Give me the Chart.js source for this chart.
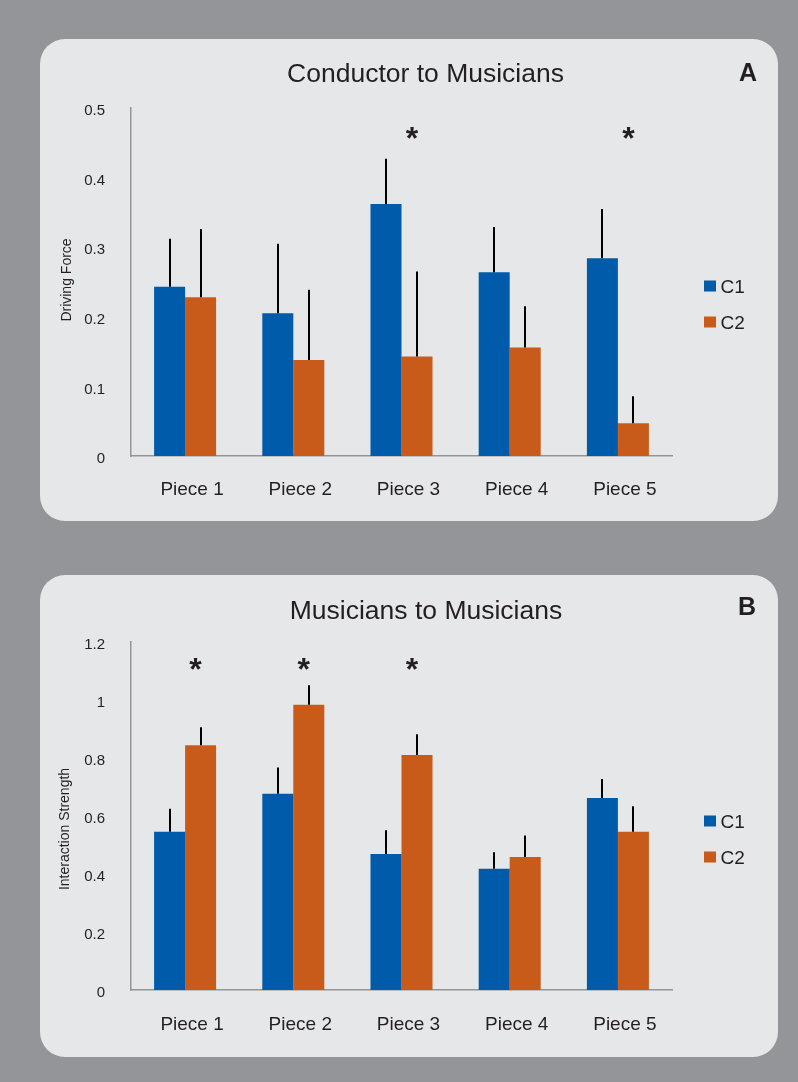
<!DOCTYPE html>
<html><head><meta charset="utf-8">
<script src="https://cdn.jsdelivr.net/npm/chart.js@4"></script>
<style>
html,body{margin:0;padding:0;background:#939598;width:798px;height:1082px;overflow:hidden;}
.panel{position:absolute;left:40px;width:738px;height:482px;background:#e6e7e8;border-radius:25px;overflow:hidden;}
#pa{top:39px;} #pb{top:575px;}
canvas{display:block;}
</style></head><body>
<div class="panel" id="pa"><canvas id="ca" width="738" height="482"></canvas></div>
<div class="panel" id="pb"><canvas id="cb" width="738" height="482"></canvas></div>
<script>
const categories = ['Piece 1','Piece 2','Piece 3','Piece 4','Piece 5'];
const seriesNames = ['C1','C2'];

const conductorC1 = [0.243, 0.205, 0.362, 0.264, 0.284];
const conductorC2 = [0.228, 0.138, 0.143, 0.156, 0.047];
const conductorC1Err = [0.069, 0.100, 0.065, 0.065, 0.071];
const conductorC2Err = [0.098, 0.101, 0.122, 0.059, 0.039];
const conductorSig = [false, false, true, false, true];
const conductorTicks = ['0','0.1','0.2','0.3','0.4','0.5'];

const musiciansC1 = [0.546, 0.677, 0.469, 0.418, 0.662];
const musiciansC2 = [0.844, 0.984, 0.810, 0.459, 0.546];
const musiciansC1Err = [0.079, 0.090, 0.082, 0.057, 0.066];
const musiciansC2Err = [0.062, 0.067, 0.072, 0.074, 0.088];
const musiciansSig = [true, true, true, false, false];
const musiciansTicks = ['0','0.2','0.4','0.6','0.8','1','1.2'];

const FONT = "'Liberation Sans', Arial, Helvetica, sans-serif";
const INK = '#231f20';
const BLUE = '#005baa';
const ORANGE = '#c85b1a';
const AXIS = '#939598';

const errorBars = {
  id: 'errorBars',
  afterDatasetsDraw(chart) {
    const ctx = chart.ctx, ys = chart.scales.y;
    ctx.save();
    ctx.strokeStyle = '#000';
    ctx.lineWidth = 2;
    chart.data.datasets.forEach((ds, i) => {
      const meta = chart.getDatasetMeta(i);
      meta.data.forEach((bar, j) => {
        const top = ys.getPixelForValue(ds.data[j] + ds.errors[j]);
        ctx.beginPath();
        ctx.moveTo(Math.round(bar.x), bar.y);
        ctx.lineTo(Math.round(bar.x), top);
        ctx.stroke();
      });
    });
    ctx.restore();
  }
};

function makeDecor(o) {
  return {
    id: 'decor',
    afterDraw(chart) {
      const ctx = chart.ctx, xs = chart.scales.x, ys = chart.scales.y;
      ctx.save();
      ctx.fillStyle = INK;
      ctx.textAlign = 'center';
      ctx.textBaseline = 'alphabetic';
      ctx.font = '26.5px ' + FONT;
      ctx.fillText(o.title, o.titleX, o.titleBase);
      ctx.font = 'bold 25px ' + FONT;
      ctx.fillText(o.letter, o.letterX, o.letterBase);
      ctx.save();
      ctx.translate(o.yTitleX, o.yTitleY);
      ctx.rotate(-Math.PI / 2);
      ctx.font = '14px ' + FONT;
      ctx.textBaseline = 'middle';
      ctx.fillText(o.yTitle, 0, 0);
      ctx.restore();
      chart.data.datasets.forEach((ds, i) => {
        const cy = o.legendY + i * 36;
        ctx.fillStyle = ds.backgroundColor;
        ctx.fillRect(o.legendX, cy - 5.5, 12, 11);
        ctx.fillStyle = INK;
        ctx.font = '19px ' + FONT;
        ctx.textAlign = 'left';
        ctx.fillText(ds.label, o.legendX + 16.5, cy + 6.8);
      });
      ctx.font = 'bold 32px ' + FONT;
      ctx.textAlign = 'center';
      o.sig.forEach((s, j) => {
        if (!s) return;
        const x = xs.getPixelForValue(j) + 10.5;
        const y = ys.getPixelForValue(o.sigLevel);
        const m = ctx.measureText('*');
        ctx.fillText('*', x, y + (m.actualBoundingBoxAscent - m.actualBoundingBoxDescent) / 2);
      });
      ctx.restore();
    }
  };
}

function makeChart(id, c1, c2, e1, e2, ticks, yMax, yStep, top, deco) {
  return new Chart(document.getElementById(id), {
    type: 'bar',
    data: {
      labels: categories,
      datasets: [
        { label: seriesNames[0], data: c1, errors: e1, backgroundColor: BLUE, borderWidth: 0 },
        { label: seriesNames[1], data: c2, errors: e2, backgroundColor: ORANGE, borderWidth: 0 }
      ]
    },
    options: {
      responsive: false,
      animation: false,
      layout: { padding: { top: top, right: 106, left: 0, bottom: 0 }, autoPadding: false },
      datasets: { bar: { categoryPercentage: 0.573, barPercentage: 1.0 } },
      plugins: { legend: { display: false }, title: { display: false }, tooltip: { enabled: false } },
      scales: {
        x: {
          grid: { display: false },
          border: { display: true, color: AXIS, width: 1.5 },
          ticks: { color: INK, font: { family: FONT, size: 19 }, padding: deco.xPad, labelOffset: 7, maxRotation: 0 },
          afterFit(s) { s.height = 482 - top - 348; }
        },
        y: {
          min: 0, max: yMax,
          grid: { display: false },
          border: { display: true, color: AXIS, width: 1.5 },
          ticks: {
            stepSize: yStep, color: INK, font: { family: FONT, size: 15 }, padding: 18, labelOffset: 3,
            callback: (v, i) => ticks[i]
          },
          afterFit(s) { s.width = 91; }
        }
      }
    },
    plugins: [errorBars, makeDecor(deco)]
  });
}

makeChart('ca', conductorC1, conductorC2, conductorC1Err, conductorC2Err, conductorTicks, 0.5, 0.1, 69, {
  title: 'Conductor to Musicians', titleX: 385.5, titleBase: 43.3,
  letter: 'A', letterX: 708, letterBase: 41.6,
  yTitle: 'Driving Force', yTitleX: 27, yTitleY: 241,
  legendX: 664, legendY: 247,
  sig: conductorSig, sigLevel: 0.464, xPad: 14
});
makeChart('cb', musiciansC1, musiciansC2, musiciansC1Err, musiciansC2Err, musiciansTicks, 1.2, 0.2, 67, {
  title: 'Musicians to Musicians', titleX: 386, titleBase: 43.5,
  letter: 'B', letterX: 707, letterBase: 40,
  yTitle: 'Interaction Strength', yTitleX: 25, yTitleY: 254,
  legendX: 664, legendY: 246,
  sig: musiciansSig, sigLevel: 1.125, xPad: 15
});
</script>
</body></html>
